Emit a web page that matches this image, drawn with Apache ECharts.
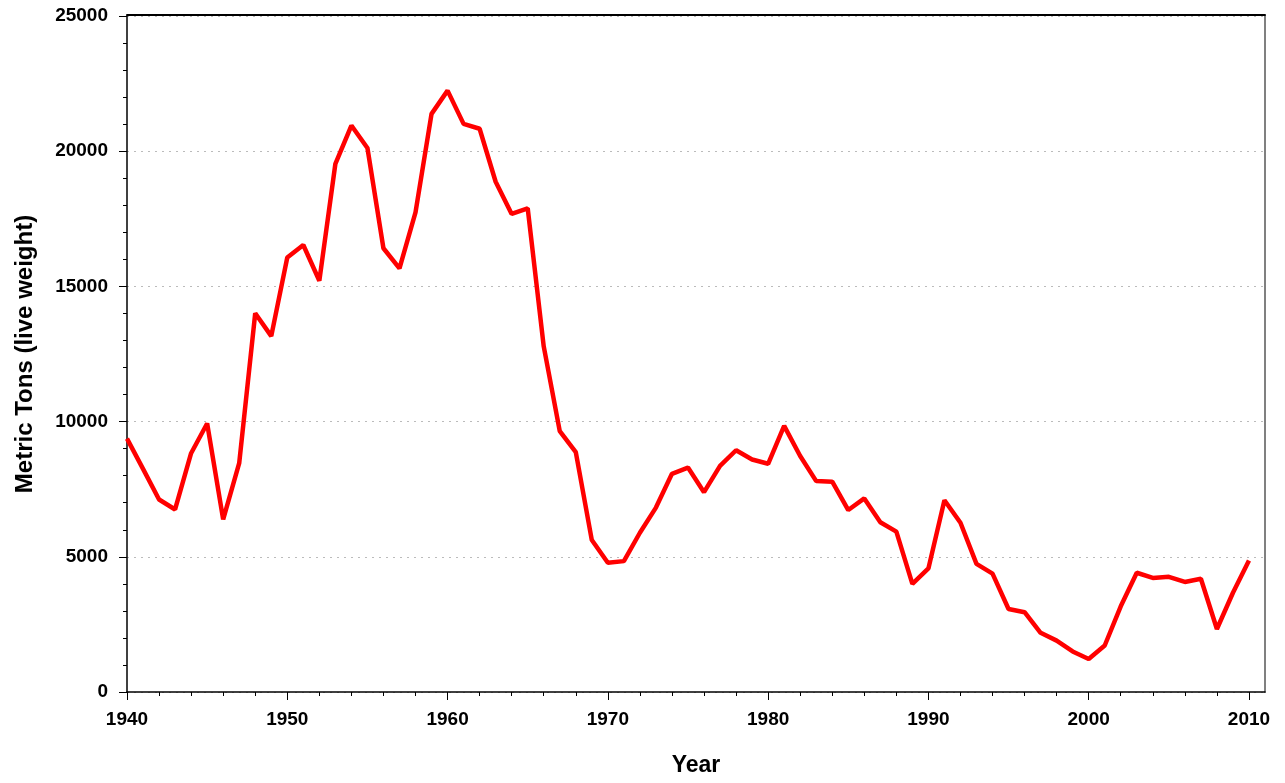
<!DOCTYPE html>
<html>
<head>
<meta charset="utf-8">
<script src="https://cdn.jsdelivr.net/npm/echarts@6/dist/echarts.min.js"></script>
<style>
  html, body { margin: 0; padding: 0; background: #fff; }
  #main { width: 1285px; height: 783px; }
</style>
</head>
<body>
<div id="main"></div>
<script>
// landings by year, metric tons (live weight)
var years = [];
for (var y = 1940; y <= 2010; y++) years.push(y);

var tons = [
  9370, 8250, 7120, 6750, 8830, 9930, 6380, 8460, 14010, 13160,
  16070, 16530, 15210, 19530, 20950, 20120, 16410, 15670, 17740, 21380,
  22240, 21010, 20830, 18870, 17680, 17890, 12780, 9650, 8870, 5620,
  4780, 4840, 5890, 6820, 8070, 8300, 7390, 8360, 8940, 8600,
  8440, 9840, 8730, 7800, 7780, 6730, 7160, 6280, 5930, 4000,
  4570, 7090, 6260, 4740, 4380, 3070, 2950, 2190, 1900, 1500,
  1220, 1720, 3170, 4410, 4220, 4260, 4070, 4190, 2330, 3670,
  4860
];

var decades = [1940, 1950, 1960, 1970, 1980, 1990, 2000, 2010];
var yTicks = [0, 5000, 10000, 15000, 20000, 25000];

var points = years.map(function (yr, i) { return [yr, tons[i]]; });

var chart = echarts.init(document.getElementById('main'));
var font = 'Liberation Sans, Arial, sans-serif';

chart.setOption({
  animation: false,
  backgroundColor: '#fff',
  grid: { left: 127, right: 20, top: 16, bottom: 91, containLabel: false, outerBoundsMode: 'none' },
  xAxis: [{
    type: 'value',
    min: 1940,
    max: 2011,
    interval: 10,
    name: 'Year',
    nameLocation: 'middle',
    nameGap: 62,
    nameTextStyle: { fontFamily: font, fontWeight: 'bold', fontSize: 23, color: '#000' },
    axisLine: { show: true, onZero: false, lineStyle: { color: '#000', width: 1.5 } },
    axisTick: { show: true, inside: false, length: 8, customValues: decades, lineStyle: { color: '#000' } },
    minorTick: { show: true, splitNumber: 5, length: 4, lineStyle: { color: '#000' } },
    axisLabel: {
      fontFamily: font, fontWeight: 'bold', fontSize: 19, color: '#000', margin: 18,
      customValues: decades,
      formatter: function (v) { return v % 10 === 0 ? String(v) : ''; }
    },
    splitLine: { show: false }
  }, {
    type: 'value',
    position: 'top',
    min: 1940,
    max: 2011,
    offset: 1,
    axisLine: { show: true, onZero: false, lineStyle: { color: '#000', width: 2 } },
    axisTick: { show: false },
    axisLabel: { show: false },
    splitLine: { show: false }
  }],
  yAxis: [{
    type: 'value',
    min: yTicks[0],
    max: yTicks[yTicks.length - 1],
    interval: 5000,
    name: 'Metric Tons (live weight)',
    nameLocation: 'middle',
    nameGap: 90,
    nameTextStyle: { fontFamily: font, fontWeight: 'bold', fontSize: 24, color: '#000' },
    axisLine: { show: true, onZero: false, lineStyle: { color: '#000', width: 1.5 } },
    axisTick: { show: true, inside: false, length: 8, lineStyle: { color: '#000' } },
    minorTick: { show: true, splitNumber: 5, length: 4, lineStyle: { color: '#000' } },
    axisLabel: {
      fontFamily: font, fontWeight: 'bold', fontSize: 19, color: '#000', margin: 19,
      formatter: function (v) { return String(v); }
    },
    splitLine: { show: true, lineStyle: { color: '#bbb', type: [2, 5], width: 1 } }
  }, {
    type: 'value',
    position: 'right',
    min: yTicks[0],
    max: yTicks[yTicks.length - 1],
    axisLine: { show: true, onZero: false, lineStyle: { color: '#808080', width: 2 } },
    axisTick: { show: false },
    axisLabel: { show: false },
    splitLine: { show: false }
  }],
  series: [{
    type: 'line',
    data: points,
    symbol: 'none',
    lineStyle: { color: '#ff0000', width: 4.5 },
    z: 3
  }]
});
</script>
</body>
</html>
